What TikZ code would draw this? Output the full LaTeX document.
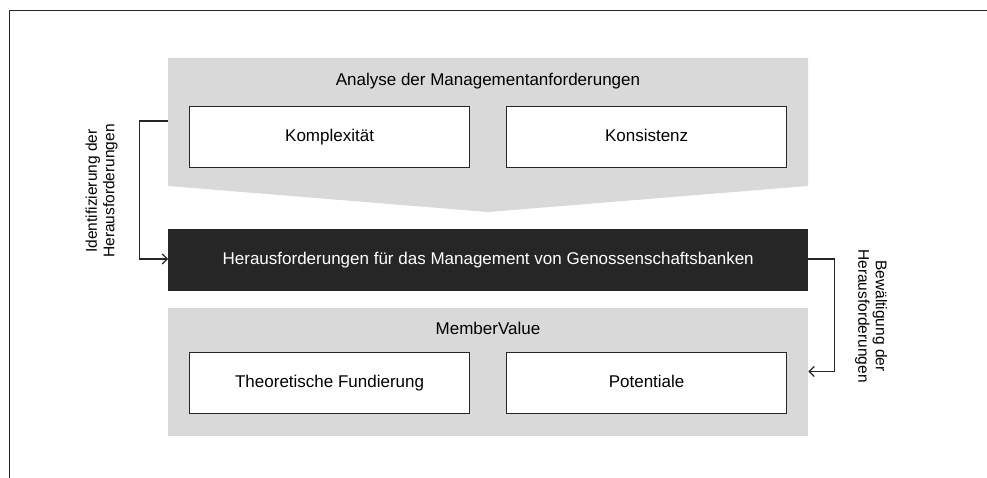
\documentclass[tikz,border=0pt]{standalone}
\usepackage{fontspec}
\setmainfont{Liberation Sans}
\usetikzlibrary{arrows.meta}
\definecolor{graybg}{HTML}{D9D9D9}
\definecolor{darkbg}{HTML}{262626}
\definecolor{linec}{HTML}{262626}
\begin{document}
\begin{tikzpicture}[x=1pt,y=-1pt,
  txt/.style={font=\fontsize{17}{20}\selectfont, text height=12.2pt, text depth=3.6pt},
  sidetxt/.style={font=\fontsize{15.5}{17.5}\selectfont, align=center},
  whitebox/.style={draw=linec, line width=1.2pt, fill=white, minimum width=280pt, minimum height=61pt, txt, anchor=north west, inner sep=0pt},
  conn/.style={draw=linec, line width=1.5pt, -{Straight Barb[length=5pt,width=10pt,line width=1.2pt]}}]
\useasboundingbox (0,0) rectangle (987,478);
% frame
\draw[linec, line width=1.6pt] (9.5,478) -- (9.5,10.5) -- (987,10.5);
% top gray
\fill[graybg] (168,58) -- (808,58) -- (808,186) -- (488,212) -- (168,186) -- cycle;
\node[txt, anchor=center] (ana) at (488,81) {Analyse der Managementanforderungen};
\node[whitebox] (kom) at (189,106) {Komplexität};
\node[whitebox] (kon) at (506,106) {Konsistenz};
% dark box
\node[fill=darkbg, minimum width=640pt, minimum height=62pt, anchor=north west, inner sep=0pt, txt, text=white] (her) at (168,229) {Herausforderungen für das Management von Genossenschaftsbanken};
% bottom gray
\node[fill=graybg, minimum width=640pt, minimum height=128pt, anchor=north west, inner sep=0pt] (mv) at (168,307.5) {};
\node[txt, anchor=center] (mvt) at (488,330) {MemberValue};
\node[whitebox] (the) at (189,352) {Theoretische Fundierung};
\node[whitebox] (pot) at (506,352) {Potentiale};
% connectors
\coordinate (a1) at (168,121);
\draw[conn] (a1) -- (139.5,121) -- (139.5,259) -- (her.west |- 0,259);
\draw[conn] (her.east |- 0,259) -- (834.5,259) -- (834.5,371.5) -- (mv.east |- 0,371.5);
% side texts
\node[sidetxt, rotate=90] (idt) at (101.5,191) {Identifizierung der\\Herausforderungen};
\node[sidetxt, rotate=-90] (bew) at (871,316) {Bewältigung der\\Herausforderungen};
\end{tikzpicture}
\end{document}
